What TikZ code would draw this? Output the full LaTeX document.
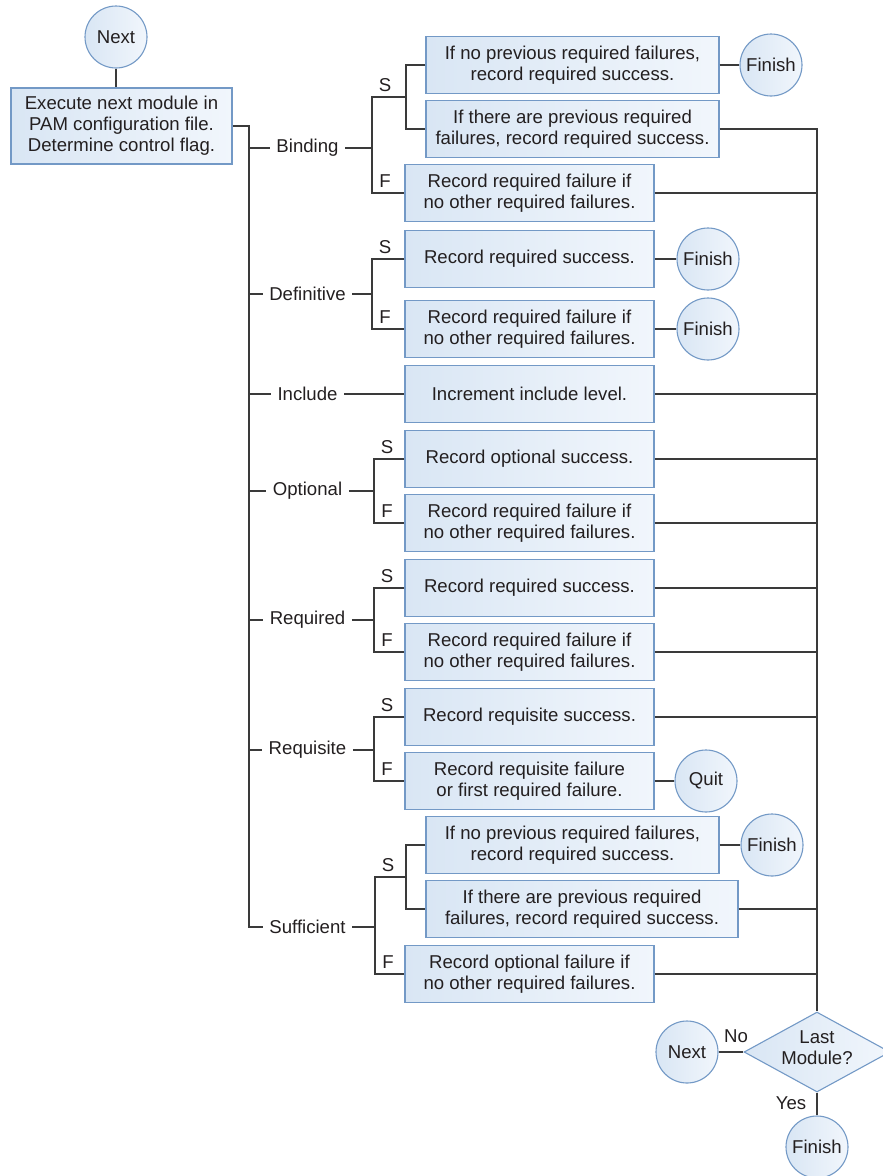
\documentclass[tikz,border=0pt]{standalone}
\usepackage{fontspec}
\setmainfont{Liberation Sans}
\usetikzlibrary{shapes.geometric,calc}

\definecolor{boxline}{HTML}{7399C6}
\definecolor{boxleft}{HTML}{D9E6F4}
\definecolor{boxright}{HTML}{F1F6FC}
\definecolor{wire}{HTML}{3A3A3A}
\definecolor{ink}{HTML}{231F20}

\begin{document}
\begin{tikzpicture}[x=1pt,y=-1pt,
  every node/.style={font=\fontsize{18.6}{21}\selectfont, text=ink},
  box/.style={draw=boxline, line width=1.1pt, left color=boxleft, right color=boxright,
              align=center, minimum height=57pt, minimum width=249pt, inner sep=0pt},
  widebox/.style={box, minimum width=293pt},
  circ/.style={circle, draw=boxline, line width=1.1pt, left color=boxleft, right color=boxright,
               minimum size=62pt, inner sep=0pt},
  decision/.style={diamond, draw=boxline, line width=1.1pt, left color=boxleft, right color=boxright,
                   aspect=1.825, minimum width=146pt, minimum height=80pt, inner sep=-4pt,
                   text depth=8pt, align=center},
  flag/.style={inner xsep=6.5pt, inner ysep=2pt},
  letter/.style={inner sep=0pt},
  wire/.style={draw=wire, line width=1.5pt}]

\useasboundingbox (0,0) rectangle (883,1176);

% start and module lookup
\node[circ] (next) at (116,37) {Next};
\node[box, minimum width=221pt, minimum height=76pt] (exec) at (121.5,126)
  {Execute next module in\\PAM configuration file.\\Determine control flag.};

% control flag labels
\node[flag] (lbB) at (307.5,148) {Binding};
\node[flag] (lbD) at (307.5,294) {Definitive};
\node[flag] (lbI) at (307.5,394) {Include};
\node[flag] (lbO) at (307.5,491) {Optional};
\node[flag] (lbR) at (307.5,620) {Required};
\node[flag] (lbQ) at (307.5,750) {Requisite};
\node[flag] (lbS) at (307.5,927) {Sufficient};

% action boxes
\node[widebox] (bs1) at (572.5,65)  {If no previous required failures,\\record required success.};
\node[widebox] (bs2) at (572.5,129) {If there are previous required\\failures, record required success.};
\node[box] (bf)  at (529.5,193) {Record required failure if\\no other required failures.};
\node[box] (ds)  at (529.5,259) {Record required success.};
\node[box] (df)  at (529.5,329) {Record required failure if\\no other required failures.};
\node[box] (inc) at (529.5,394) {Increment include level.};
\node[box] (os)  at (529.5,459) {Record optional success.};
\node[box] (of)  at (529.5,523) {Record required failure if\\no other required failures.};
\node[box] (rs)  at (529.5,588) {Record required success.};
\node[box] (rf)  at (529.5,652) {Record required failure if\\no other required failures.};
\node[box] (qs)  at (529.5,717) {Record requisite success.};
\node[box] (qf)  at (529.5,781) {Record requisite failure\\or first required failure.};
\node[widebox] (ss1) at (572.5,845) {If no previous required failures,\\record required success.};
\node[widebox, minimum width=312pt] (ss2) at (582,909) {If there are previous required\\failures, record required success.};
\node[box] (sf)  at (529.5,974) {Record optional failure if\\no other required failures.};

% terminals
\node[circ] (finB)  at (771,65)  {Finish};
\node[circ] (finDS) at (708,259) {Finish};
\node[circ] (finDF) at (708,329) {Finish};
\node[circ] (quit)  at (706,781) {Quit};
\node[circ] (finS)  at (772,845) {Finish};
\node[decision] (last) at (817,1052) {Last\\Module?};
\node[circ] (nextB) at (687,1052) {Next};
\node[circ] (finE)  at (817,1147) {Finish};
\node (no)  at (736,1036) {No};
\node (yes) at (791,1103) {Yes};

% trunk
\coordinate (tB) at (249,148);
\coordinate (tD) at (249,294);
\coordinate (tI) at (249,394);
\coordinate (tO) at (249,491);
\coordinate (tR) at (249,620);
\coordinate (tQ) at (249,750);
\coordinate (tS) at (249,927);
\draw[wire] (next.south) -- (next.south |- exec.north);
\draw[wire] (exec.east) -| (tS) -- (lbS.west);
\foreach \t/\l in {tB/lbB, tD/lbD, tI/lbI, tO/lbO, tR/lbR, tQ/lbQ}
  \draw[wire] (\t) -- (\l.west);

% success / failure splits
\coordinate (jBs) at (372,97);  \coordinate (jBf) at (372,193); \coordinate (kB) at (406,97);
\coordinate (jDs) at (372,259); \coordinate (jDf) at (372,329);
\coordinate (jOs) at (374,459); \coordinate (jOf) at (374,523);
\coordinate (jRs) at (374,588); \coordinate (jRf) at (374,652);
\coordinate (jQs) at (374,717); \coordinate (jQf) at (374,781);
\coordinate (jSs) at (375,877); \coordinate (jSf) at (375,974); \coordinate (kS) at (406,877);

% Binding
\draw[wire] (lbB.east) -- (lbB.east -| jBs);
\draw[wire] (kB) -- (jBs) -- (jBf) -- (bf.west);
\draw[wire] (bs1.west) -| (kB) |- (bs2.west);
% Definitive
\draw[wire] (lbD.east) -- (lbD.east -| jDs);
\draw[wire] (ds.west) -- (jDs) -- (jDf) -- (df.west);
% Include
\draw[wire] (lbI.east) -- (inc.west);
% Optional
\draw[wire] (lbO.east) -- (lbO.east -| jOs);
\draw[wire] (os.west) -- (jOs) -- (jOf) -- (of.west);
% Required
\draw[wire] (lbR.east) -- (lbR.east -| jRs);
\draw[wire] (rs.west) -- (jRs) -- (jRf) -- (rf.west);
% Requisite
\draw[wire] (lbQ.east) -- (lbQ.east -| jQs);
\draw[wire] (qs.west) -- (jQs) -- (jQf) -- (qf.west);
% Sufficient
\draw[wire] (lbS.east) -- (lbS.east -| jSs);
\draw[wire] (kS) -- (jSs) -- (jSf) -- (sf.west);
\draw[wire] (ss1.west) -| (kS) |- (ss2.west);

% S / F markers
\foreach \j/\m in {jBs/S, jBf/F, jDs/S, jDf/F, jOs/S, jOf/F, jRs/S, jRf/F, jQs/S, jQf/F, jSs/S, jSf/F}
  \node[letter] at ($(\j)+(13,-12)$) {\m};

% outcomes into terminals
\draw[wire] (bs1.east) -- (finB.west);
\draw[wire] (ds.east) -- (finDS.west);
\draw[wire] (df.east) -- (finDF.west);
\draw[wire] (qf.east) -- (quit.west);
\draw[wire] (ss1.east) -- (finS.west);

% collecting bus down to the decision
\coordinate (bus) at (817,129);
\draw[wire] (bs2.east) -- (bus) -- (last.north);
\foreach \b in {bf, inc, os, of, rs, rf, qs, ss2, sf}
  \draw[wire] (\b.east) -- (\b.east -| bus);
\draw[wire] (nextB.east) -- (last.west);
\draw[wire] (last.south) -- (finE.north);

\end{tikzpicture}
\end{document}
